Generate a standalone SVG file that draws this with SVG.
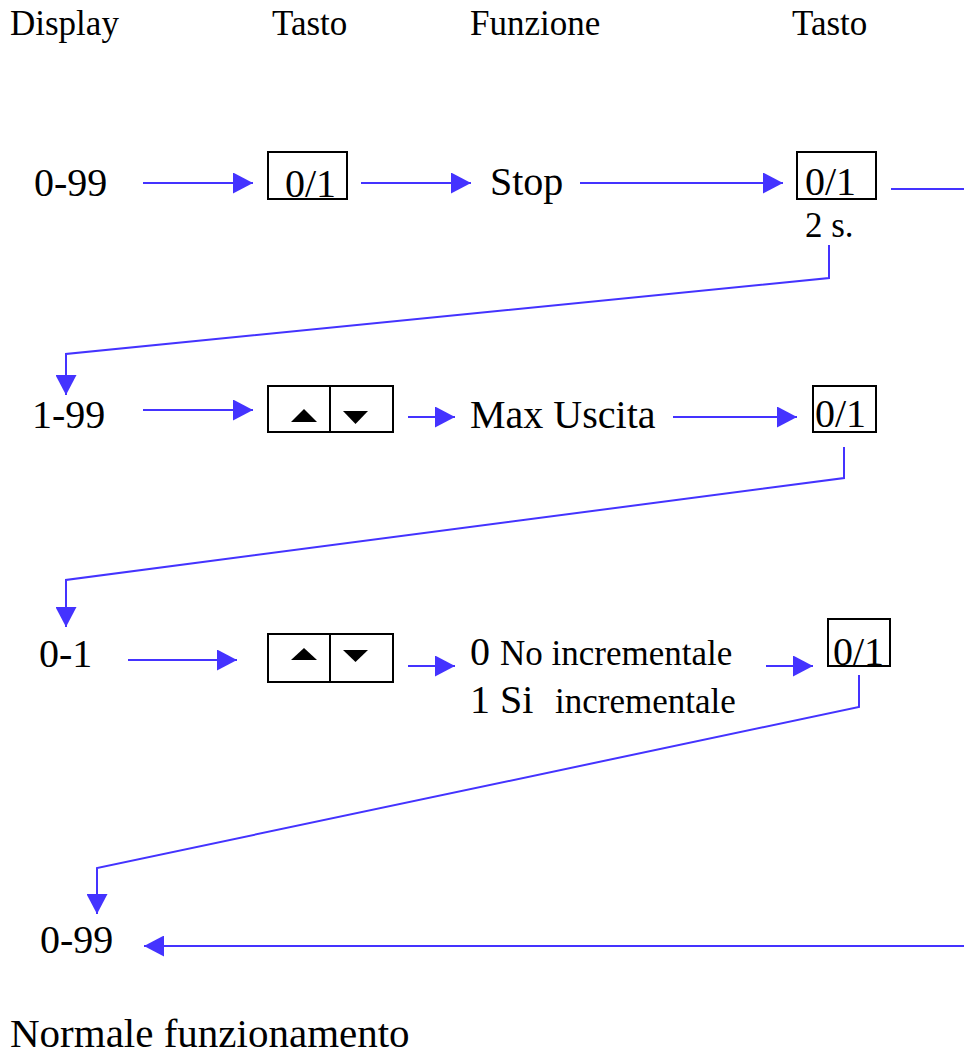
<svg xmlns="http://www.w3.org/2000/svg" width="964" height="1055" viewBox="0 0 964 1055" font-family="'Liberation Serif', 'DejaVu Serif', serif">
<style>
text{fill:#000}
.h{font-size:35px}
.t{font-size:40px}
.f{font-size:41px}
.s{font-size:35px}
.box{fill:#fff;stroke:#000;stroke-width:2}
.c{fill:none;stroke:#4433FF;stroke-width:2}
.tri{fill:#000}
</style>
<defs>
<marker id="ah" markerUnits="userSpaceOnUse" markerWidth="20" markerHeight="21" refX="20" refY="10.5" orient="auto" viewBox="0 0 20 21">
<path d="M0,0 L20,10.5 L0,21 z" fill="#4433FF"/>
</marker>
</defs>
<rect width="964" height="1055" fill="#fff"/>
<g id="headers">
<text class="h" x="10" y="35">Display</text>
<text class="h" x="272" y="35">Tasto</text>
<text class="h" x="470" y="35">Funzione</text>
<text class="h" x="792" y="35">Tasto</text>
</g>
<g id="connectors">
<line class="c" x1="143" y1="183" x2="253" y2="183" marker-end="url(#ah)"/>
<line class="c" x1="361" y1="183" x2="471" y2="183" marker-end="url(#ah)"/>
<line class="c" x1="580" y1="183" x2="783" y2="183" marker-end="url(#ah)"/>
<line class="c" x1="891" y1="189" x2="964" y2="189"/>
<polyline class="c" points="829,245 829,278 66,354 66,395" marker-end="url(#ah)"/>
<line class="c" x1="143" y1="410" x2="253" y2="410" marker-end="url(#ah)"/>
<line class="c" x1="408" y1="417" x2="455" y2="417" marker-end="url(#ah)"/>
<line class="c" x1="673" y1="417" x2="797" y2="417" marker-end="url(#ah)"/>
<polyline class="c" points="844,447 844,478 66,580 66,627" marker-end="url(#ah)"/>
<line class="c" x1="128" y1="660" x2="237" y2="660" marker-end="url(#ah)"/>
<line class="c" x1="408" y1="666" x2="455" y2="666" marker-end="url(#ah)"/>
<line class="c" x1="766" y1="666" x2="813" y2="666" marker-end="url(#ah)"/>
<polyline class="c" points="859,675 859,707 97,868 97,914" marker-end="url(#ah)"/>
<line class="c" x1="964" y1="946" x2="144" y2="946" marker-end="url(#ah)"/>
</g>
<g id="display1"><text class="t" x="34" y="196">0-99</text></g>
<g id="key1"><rect class="box" x="268" y="152" width="79" height="47"/><text class="t" x="285" y="197">0/1</text></g>
<g id="stop"><text class="t" x="490" y="195">Stop</text></g>
<g id="key2"><rect class="box" x="797" y="152" width="79" height="47"/><text class="t" x="805" y="195">0/1</text><text class="h" x="805" y="237">2 s.</text></g>
<g id="display2"><text class="t" x="32" y="428">1-99</text></g>
<g id="updown1"><rect class="box" x="268" y="386" width="125" height="46"/><line x1="330" y1="386" x2="330" y2="432" stroke="#000" stroke-width="2"/><polygon class="tri" points="291,422 317,422 304,409"/><polygon class="tri" points="343,411 368,411 355.5,424"/></g>
<g id="maxuscita"><text class="t" x="470" y="428">Max Uscita</text></g>
<g id="key3"><rect class="box" x="813" y="386" width="63" height="46"/><text class="t" x="815" y="427">0/1</text></g>
<g id="display3"><text class="t" x="39" y="667">0-1</text></g>
<g id="updown2"><rect class="box" x="268" y="634" width="125" height="48"/><line x1="330" y1="634" x2="330" y2="682" stroke="#000" stroke-width="2"/><polygon class="tri" points="291,660 317,660 304,648"/><polygon class="tri" points="343,650 368,650 355.5,662"/></g>
<g id="incrementale">
<text class="t" x="470" y="665">0<tspan class="s" x="500">No incrementale</tspan></text>
<text class="t" x="470" y="713">1 Si<tspan class="s" x="555">incrementale</tspan></text>
</g>
<g id="key4"><rect class="box" x="828" y="619" width="62" height="47"/><text class="t" x="833" y="665">0/1</text></g>
<g id="display4"><text class="t" x="40" y="953">0-99</text></g>
<g id="footer"><text class="f" x="10" y="1047">Normale funzionamento</text></g>
</svg>
